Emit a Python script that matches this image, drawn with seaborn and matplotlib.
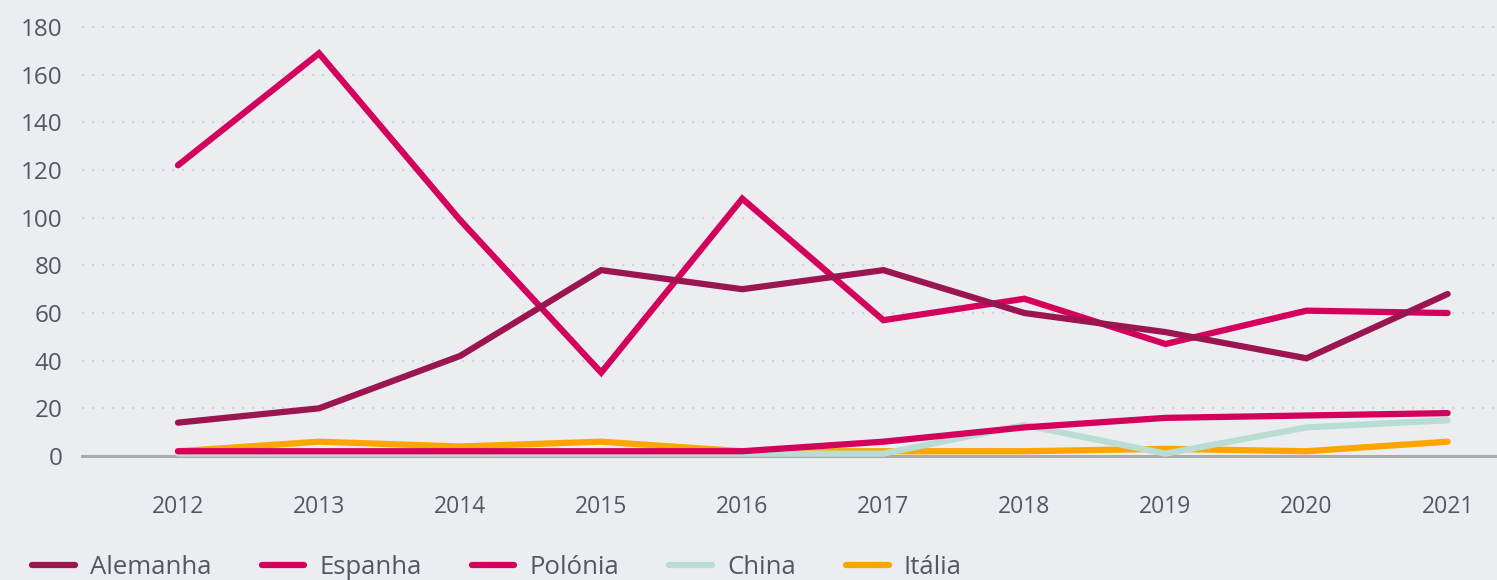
import matplotlib
matplotlib.use("Agg")
import matplotlib.pyplot as plt
import seaborn as sns
import pandas as pd

years = [2012, 2013, 2014, 2015, 2016, 2017, 2018, 2019, 2020, 2021]
alemanha = [14, 20, 42, 78, 70, 78, 60, 52, 41, 68]
espanha = [122, 169, 99, 35, 108, 57, 66, 47, 61, 60]
polonia = [2, 2, 2, 2, 2, 6, 12, 16, 17, 18]
china = [1, 1, 1, 1, 1, 1, 13, 1, 12, 15]
italia = [2, 6, 4, 6, 2, 2, 2, 3, 2, 6]

countries = ["Alemanha", "Espanha", "Polónia", "China", "Itália"]
colors = {"Alemanha": "#9B1550", "Espanha": "#D3005C", "Polónia": "#D3005C",
          "China": "#B9DDD4", "Itália": "#FFA500"}
yticks = [0, 20, 40, 60, 80, 100, 120, 140, 160, 180]

series = {"Alemanha": alemanha, "Espanha": espanha, "Polónia": polonia,
          "China": china, "Itália": italia}
rows = []
for name in countries:
    for i, (yr, v) in enumerate(zip(years, series[name])):
        rows.append({"idx": i, "ano": str(yr), "pais": name, "valor": v})
df = pd.DataFrame(rows)

bg = "#ECEDF1"
txt = "#54585C"
sns.set_theme(style="white")
plt.rcParams["font.family"] = ["Open Sans", "DejaVu Sans"]

fig = plt.figure(figsize=(14.97, 5.8), dpi=100, facecolor=bg)
ax = fig.add_axes([0.0548, 0.2138, 0.9452, 0.760], facecolor=bg)

# draw back-to-front so the lower series sit beneath the pink ones
for name in reversed(countries):
    sub = df[df["pais"] == name]
    sns.lineplot(data=sub, x="idx", y="valor", ax=ax, color=colors[name],
                 linewidth=4.5, solid_capstyle="round", solid_joinstyle="miter",
                 label=name, legend=False, clip_on=False)

ax.set_xlim(-0.68, 9.35)
ax.set_ylim(0, 185)
ax.set_yticks(yticks)
ax.set_yticklabels([str(t) for t in yticks], fontsize=17.5, color=txt)
ax.set_xticks(range(len(years)))
ax.set_xticklabels([str(y) for y in years], fontsize=16.5, color=txt)
ax.tick_params(axis="x", length=3, width=1, color="#9A9A9A", pad=25, direction="out")
ax.tick_params(axis="y", length=0, pad=14)
ax.set_xlabel("")
ax.set_ylabel("")

for t in yticks[1:]:
    ax.axhline(t, color="#D2D3D8", linewidth=1.6, linestyle=(0, (1, 3.5)), zorder=0)

for s in ["top", "right", "left"]:
    ax.spines[s].set_visible(False)
ax.spines["bottom"].set_color("#ABABAB")
ax.spines["bottom"].set_linewidth(2.2)
ax.spines["bottom"].set_zorder(0.5)

handles = [plt.Line2D([0], [0], color=colors[n], linewidth=4.5,
                      solid_capstyle="round") for n in countries]
leg = fig.legend(handles, countries, loc="lower left", bbox_to_anchor=(0.006, -0.04),
                 ncol=5, frameon=False, fontsize=18.5, handlelength=1.65,
                 handletextpad=0.6, columnspacing=1.95, labelcolor=txt)

fig.savefig("out.png", dpi=100, facecolor=bg)
